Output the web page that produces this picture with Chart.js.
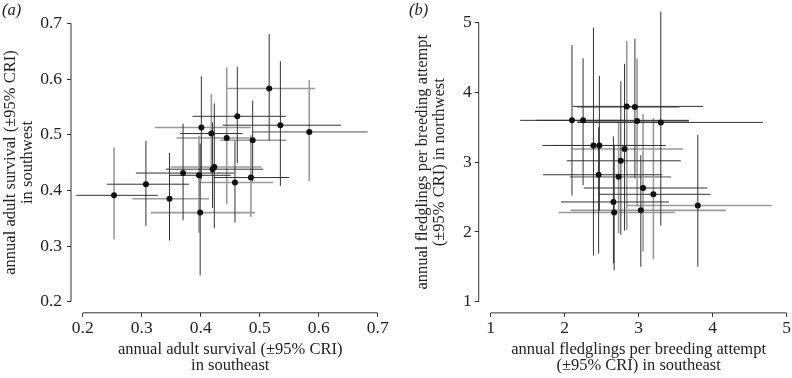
<!DOCTYPE html>
<html>
<head>
<meta charset="utf-8">
<script src="https://cdn.jsdelivr.net/npm/chart.js@4.4.1/dist/chart.umd.min.js"></script>
<style>
  html, body { margin: 0; padding: 0; background: #fff; overflow: hidden; }
  body { width: 792px; height: 378px; position: relative; }
  canvas { position: absolute; top: 0; }
  .tag { position: absolute; top: 1px; z-index: 2; font: italic 16.5px "Liberation Serif", serif; line-height: 18px; color: #222; }
</style>
</head>
<body>
<canvas id="chart-a" style="left:0px" width="396" height="378"></canvas>
<canvas id="chart-b" style="left:396px" width="410" height="378"></canvas>
<div class="tag" style="left:2px">(a)</div>
<div class="tag" style="left:409px">(b)</div>
<script>
// (a) annual adult survival, southeast (x) against southwest (y), with 95% CRI
let survSE   = [0.253, 0.307, 0.347, 0.370, 0.397, 0.399, 0.401, 0.418, 0.423, 0.420, 0.444, 0.462, 0.458, 0.485, 0.488, 0.516, 0.535, 0.584];
let survSELo = [0.189, 0.241, 0.284, 0.290, 0.346, 0.315, 0.322, 0.365, 0.349, 0.341, 0.359, 0.386, 0.397, 0.422, 0.433, 0.444, 0.437, 0.488];
let survSEHi = [0.327, 0.380, 0.414, 0.457, 0.451, 0.492, 0.485, 0.471, 0.503, 0.506, 0.488, 0.544, 0.523, 0.550, 0.545, 0.594, 0.638, 0.683];
let survSW   = [0.391, 0.411, 0.385, 0.431, 0.427, 0.360, 0.513, 0.502, 0.442, 0.438, 0.494, 0.533, 0.414, 0.423, 0.490, 0.583, 0.517, 0.505];
let survSWLo = [0.312, 0.336, 0.310, 0.346, 0.324, 0.247, 0.420, 0.431, 0.332, 0.368, 0.375, 0.449, 0.342, 0.352, 0.416, 0.489, 0.408, 0.416];
let survSWHi = [0.477, 0.489, 0.467, 0.520, 0.498, 0.484, 0.605, 0.573, 0.556, 0.522, 0.621, 0.622, 0.489, 0.499, 0.561, 0.681, 0.632, 0.598];
// which interval of each point is printed dark (d) or light (g)
let survSETone = ['d','d','g','d','d','g','g','d','g','d','g','d','g','d','g','g','d','g'];
let survSWTone = ['g','d','d','d','g','d','d','g','d','d','g','d','d','g','d','d','d','g'];
let survTicks = [0.2, 0.3, 0.4, 0.5, 0.6, 0.7];

// (b) annual fledglings per breeding attempt, southeast (x) against northwest (y)
let fledSE   = [2.10, 2.25, 2.39, 2.47, 2.46, 2.66, 2.67, 2.73, 2.76, 2.81, 2.84, 2.95, 2.98, 3.03, 3.06, 3.20, 3.30, 3.80];
let fledSELo = [1.40, 1.62, 1.70, 1.85, 1.71, 1.95, 1.92, 2.07, 2.03, 2.10, 2.11, 2.17, 2.17, 2.08, 2.26, 2.45, 2.17, 2.83];
let fledSEHi = [2.80, 3.68, 3.10, 3.37, 3.32, 3.41, 3.49, 3.44, 3.57, 3.60, 3.87, 3.55, 3.68, 4.18, 3.93, 3.97, 4.68, 4.80];
let fledNW   = [3.60, 3.60, 3.24, 3.24, 2.82, 2.43, 2.28, 2.79, 3.02, 3.19, 3.80, 3.79, 3.59, 2.31, 2.63, 2.54, 3.57, 2.38];
let fledNWLo = [2.52, 2.67, 1.66, 2.30, 1.69, 1.55, 1.45, 1.98, 1.96, 2.02, 2.03, 2.77, 2.36, 1.50, 1.72, 1.61, 2.09, 1.50];
let fledNWHi = [4.68, 4.49, 4.93, 4.24, 3.50, 3.37, 3.25, 3.58, 4.16, 4.41, 4.74, 4.77, 4.49, 3.10, 3.69, 3.63, 5.16, 3.39];
let fledSETone = ['d','d','d','d','d','d','g','g','d','g','d','g','d','g','d','d','d','g'];
let fledNWTone = ['d','d','d','d','d','d','d','g','d','d','g','d','g','d','g','g','d','d'];
let fledTicks = [1, 2, 3, 4, 5];

const FONT = 'Liberation Serif';
const tones = { d: { color: '#333333', width: 1 }, g: { color: '#9a9a9a', width: 1.6 } };

function seg(ctx, x1, y1, x2, y2, t) {
  ctx.strokeStyle = t.color;
  ctx.lineWidth = t.width;
  ctx.beginPath();
  ctx.moveTo(x1, y1);
  ctx.lineTo(x2, y2);
  ctx.stroke();
}

// crossed 95% intervals, drawn under the points
const errorBars = {
  id: 'errorBars',
  beforeDatasetsDraw(chart, args, o) {
    const ctx = chart.ctx, sx = chart.scales.x, sy = chart.scales.y;
    ctx.save();
    ['g', 'd'].forEach(function(tone) {
      for (let i = 0; i < o.x.length; i++) {
        if (o.xTone[i] == tone) {
          let py = sy.getPixelForValue(o.y[i]);
          seg(ctx, sx.getPixelForValue(o.xLo[i]), py, sx.getPixelForValue(o.xHi[i]), py, tones[tone]);
        }
        if (o.yTone[i] == tone) {
          let px = sx.getPixelForValue(o.x[i]);
          seg(ctx, px, sy.getPixelForValue(o.yLo[i]), px, sy.getPixelForValue(o.yHi[i]), tones[tone]);
        }
      }
    });
    ctx.restore();
  },
  // R style axis lines, running from first to last tick only
  afterDraw(chart) {
    const ctx = chart.ctx, sx = chart.scales.x, sy = chart.scales.y, a = chart.chartArea;
    ctx.save();
    let t = { color: '#333333', width: 1 };
    seg(ctx, a.left, sy.getPixelForValue(sy.ticks[0].value), a.left, sy.getPixelForValue(sy.ticks[sy.ticks.length - 1].value), t);
    seg(ctx, sx.getPixelForValue(sx.ticks[0].value), a.bottom, sx.getPixelForValue(sx.ticks[sx.ticks.length - 1].value), a.bottom, t);
    ctx.restore();
  }
};

function axis(p, which) {
  let horiz = which == 'x';
  return {
    type: 'linear',
    min: p.min,
    max: p.max,
    afterBuildTicks: function(s) { s.ticks = p.ticks.map(v => ({ value: v })); },
    afterFit: function(s) {
      if (horiz) s.height = p.xHeight; else s.width = p.yWidth;
      s.paddingLeft = 0; s.paddingRight = 0; s.paddingTop = 0; s.paddingBottom = 0;
    },
    border: { display: false },
    grid: { drawOnChartArea: false, drawTicks: true, tickLength: 4, color: '#333333', lineWidth: 1 },
    ticks: {
      padding: horiz ? 1 : p.yTickPad,
      color: '#222',
      autoSkip: false,
      maxRotation: 0,
      font: { family: FONT, size: 17.5 },
      callback: p.fmt
    },
    title: {
      display: true,
      text: horiz ? p.xTitle : p.yTitle,
      color: '#222',
      font: { family: FONT, size: 16.5, lineHeight: 1.02 },
      padding: horiz ? { top: 0, bottom: 3.5 } : { top: p.yTitlePad, bottom: 0 }
    }
  };
}

function makePanel(id, p) {
  let ctx = document.getElementById(id).getContext('2d');
  let pts = p.x.map((v, i) => ({ x: v, y: p.y[i] }));
  return new Chart(ctx, {
    type: 'scatter',
    data: {
      datasets: [{
        data: pts,
        pointRadius: 3,
        pointHoverRadius: 3,
        backgroundColor: '#111',
        borderWidth: 0
      }]
    },
    options: {
      responsive: false,
      animation: false,
      layout: { padding: p.pad },
      plugins: {
        legend: { display: false },
        tooltip: { enabled: false },
        errorBars: p
      },
      scales: { x: axis(p, 'x'), y: axis(p, 'y') }
    },
    plugins: [errorBars]
  });
}

makePanel('chart-a', {
  x: survSE, xLo: survSELo, xHi: survSEHi, xTone: survSETone,
  y: survSW, yLo: survSWLo, yHi: survSWHi, yTone: survSWTone,
  ticks: survTicks, min: 0.18, max: 0.72,
  fmt: v => v.toFixed(1),
  xTitle: ['annual adult survival (\u00b195% CRI)', 'in southeast'],
  yTitle: ['annual adult survival (\u00b195% CRI)', 'in southwest'],
  pad: { left: 0, top: 12.2, right: 6.5, bottom: 0 },
  xHeight: 65.2, yWidth: 71, yTickPad: 5, yTitlePad: 2
});

makePanel('chart-b', {
  x: fledSE, xLo: fledSELo, xHi: fledSEHi, xTone: fledSETone,
  y: fledNW, yLo: fledNWLo, yHi: fledNWHi, yTone: fledNWTone,
  ticks: fledTicks, min: 0.84, max: 5.16,
  fmt: v => String(v),
  xTitle: ['annual fledglings per breeding attempt', '(\u00b195% CRI) in southeast'],
  yTitle: ['annual fledglings per breeding attempt', '(\u00b195% CRI) in northwest'],
  pad: { left: 0, top: 11.5, right: 7.5, bottom: 0 },
  xHeight: 65.1, yWidth: 82.7, yTickPad: 3, yTitlePad: 18
});
</script>
</body>
</html>
